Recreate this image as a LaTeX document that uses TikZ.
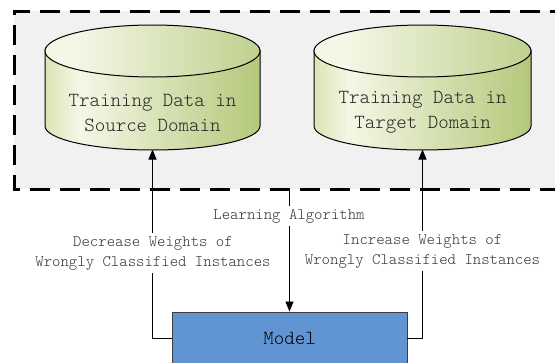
\documentclass[tikz,border=0pt]{standalone}
\usetikzlibrary{arrows.meta}

% colours
\definecolor{panelgray}{RGB}{241,241,241}
\definecolor{modelblue}{RGB}{96,148,211}
\definecolor{modeledge}{RGB}{60,60,60}
\definecolor{oliveA}{RGB}{218,228,180}
\definecolor{oliveB}{RGB}{244,247,230}
\definecolor{oliveC}{RGB}{180,200,122}

% left-to-right olive gradient used for the drums (25bp..75bp spans the path)
\pgfdeclarehorizontalshading{drum}{100bp}{%
  color(0bp)=(oliveA); color(25bp)=(oliveA); color(33bp)=(oliveB);
  color(75bp)=(oliveC); color(100bp)=(oliveC)}
\pgfdeclarehorizontalshading{drumtop}{100bp}{%
  color(0bp)=(oliveB); color(25bp)=(oliveB); color(32bp)=(oliveB);
  color(75bp)=(oliveC!85!white); color(100bp)=(oliveC!85!white)}

\tikzset{
  mono/.style={font=\fontseries{l}\ttfamily\fontsize{20}{25}\selectfont},
  labelfont/.style={font=\fontseries{l}\ttfamily\fontsize{16}{20}\selectfont},
  conn/.style={draw=black, line width=0.8pt},
  arrowconn/.style={conn, -{Triangle[length=10pt,width=8pt]}},
  gaplabel/.style={labelfont, fill=white, inner sep=3pt, align=center, text=black!80},
  modelbox/.style={draw=modeledge, line width=0.9pt, fill=modelblue,
    minimum width=235pt, minimum height=52pt, inner sep=0pt, mono},
  drumtext/.style={mono, align=center, inner sep=0pt, text=black!85},
}

% a drum: centre x, top-ellipse centre y, bottom-ellipse centre y, radii
\newcommand{\drawdrum}[5]{%
  \shade[shading=drum, draw=black, line width=1pt]
    (#1-#4,#2) -- (#1-#4,#3) arc[start angle=180, end angle=360, x radius=#4, y radius=-#5-1]
    -- (#1+#4,#2) arc[start angle=0, end angle=180, x radius=#4, y radius=-#5-1] -- cycle;
  \shade[shading=drumtop, draw=black, line width=1pt]
    (#1,#2) ellipse[x radius=#4, y radius=#5+3];
}

\begin{document}
\begin{tikzpicture}[x=1pt, y=-1pt]
  \useasboundingbox (0,0) rectangle (555,362);

  % dashed panel holding both data stores
  \draw[line width=3pt, dash pattern=on 20pt off 10pt, fill=panelgray]
    (600,11) -- (14,11) -- (14,189) -- (600,189);

  % data stores
  \drawdrum{152.5}{51}{126}{107.5}{23}
  \drawdrum{422.5}{51}{126}{108.5}{23}

  \node[drumtext] (src) at (152.5,112.5) {Training Data in\\Source Domain};
  \node[drumtext] (tgt) at (422.5,112.5) {Training Data in\\Target Domain};
  \coordinate (srcbot) at (152.5,149.5);
  \coordinate (tgtbot) at (422.5,149.5);
  \coordinate (algtop) at (289.5,189);

  % model
  \node[modelbox] (model) at (289.5,338) {Model};

  % feedback and learning connectors
  \draw[arrowconn] (model.west) -| (srcbot);
  \draw[arrowconn] (model.east) -| (tgtbot);
  \draw[arrowconn] (algtop) -- (model.north);

  % labels sitting on the connectors
  \node[gaplabel] (alglab) at (289,216) {Learning Algorithm};
  \node[gaplabel] (declab) at (153,253) {Decrease Weights of\\Wrongly Classified Instances};
  \node[gaplabel] (inclab) at (422.5,251) {Increase Weights of\\Wrongly Classified Instances};
\end{tikzpicture}
\end{document}
